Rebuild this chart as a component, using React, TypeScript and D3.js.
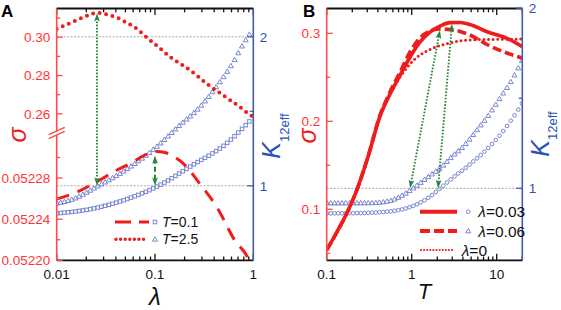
import React, { useEffect, useRef } from 'react';
import * as d3 from 'd3';

// ---------- Panel A data (x = lambda) ----------
const lambdaT25 = [0.01, 0.013, 0.017, 0.021, 0.0257, 0.033, 0.042, 0.052, 0.065, 0.085, 0.11, 0.14, 0.18, 0.23, 0.3, 0.38, 0.46, 0.58, 0.73, 0.88, 1.0];
const sigmaT25 = [0.3043, 0.3069, 0.3095, 0.3115, 0.3128, 0.3118, 0.31, 0.3075, 0.3045, 0.2993, 0.2946, 0.29, 0.2862, 0.2826, 0.2778, 0.2737, 0.2708, 0.2672, 0.2636, 0.2603, 0.2585];
const lambdaT01 = [0.01, 0.0161, 0.0263, 0.0411, 0.0597, 0.0755, 0.0889, 0.1048, 0.1264, 0.1524, 0.1921, 0.2867, 0.4305, 0.6446, 0.9137, 1.0];
const sigmaT01 = [0.0522596, 0.0522664, 0.0522771, 0.0522878, 0.0522956, 0.0523014, 0.0523043, 0.0523058, 0.0523048, 0.0523014, 0.0522946, 0.0522742, 0.0522509, 0.0522197, 0.0521983, 0.0521864];
const lambdaKT25 = [0.01, 0.01465, 0.0257, 0.0519, 0.1002, 0.1796, 0.2867, 0.4266, 0.619, 0.8152, 1.0];
const kT25 = [0.882, 0.911, 0.995, 1.113, 1.254, 1.409, 1.53, 1.671, 1.826, 1.967, 2.054];
const lambdaKT01 = [0.01, 0.0234, 0.0519, 0.1048, 0.2327, 0.5418, 0.8814, 1.0];
const kT01 = [0.815, 0.847, 0.911, 0.995, 1.133, 1.288, 1.422, 1.459];

// ---------- Panel B data (x = T) ----------
const tempB = [0.1, 0.132, 0.173, 0.226, 0.306, 0.424, 0.555, 0.73, 0.955, 1.25, 1.64, 2.15, 2.82, 3.7, 4.85, 7.7, 13.2, 20];
const sigmaL003 = [0.0538, 0.0742, 0.0958, 0.1219, 0.1594, 0.2058, 0.2308, 0.2524, 0.2728, 0.2899, 0.3013, 0.3081, 0.3121, 0.3123, 0.31, 0.3018, 0.2943, 0.2848];
const sigmaL006 = [0.0538, 0.0742, 0.0958, 0.1219, 0.16, 0.207, 0.2333, 0.256, 0.2788, 0.2947, 0.3026, 0.3049, 0.3043, 0.3021, 0.2981, 0.2873, 0.2776, 0.2719];
const sigmaL0 = [0.0538, 0.0742, 0.0958, 0.1219, 0.1594, 0.2058, 0.2308, 0.2503, 0.2651, 0.2753, 0.2816, 0.2861, 0.289, 0.2913, 0.2924, 0.293, 0.2932, 0.2935];
const tempK003 = [0.1, 0.215, 0.512, 1.036, 1.555, 2.254, 3.061, 4.013, 5.262, 6.901, 9.049, 11.45, 14.34, 17.81, 20];
const kL003 = [0.861, 0.862, 0.87, 0.902, 0.946, 1.007, 1.06, 1.102, 1.148, 1.196, 1.252, 1.307, 1.37, 1.435, 1.474];
const tempK006 = [0.1, 0.323, 0.512, 0.79, 1.064, 1.555, 2.254, 3.061, 4.013, 5.08, 6.36, 7.898, 9.049, 11.45, 14.34, 17.81, 20];
const kL006 = [0.918, 0.919, 0.927, 0.963, 1.004, 1.063, 1.12, 1.182, 1.231, 1.287, 1.346, 1.402, 1.443, 1.516, 1.585, 1.666, 1.713];

// ---------- ticks / labels ----------
const xMajorA = [0.01, 0.1, 1];
const xLabelsA = ['0.01', '0.1', '1'];
const xMajorB = [0.1, 1, 10];
const xLabelsB = ['0.1', '1', '10'];
const sigUpperMajor = [0.26, 0.28, 0.3];
const sigUpperMinor = [0.27, 0.29, 0.31];
const sigLowerMajor = [0.0522, 0.05224, 0.05228];
const sigLowerMinor = [0.05222, 0.05226, 0.0523];
const kMajorA = [1, 2];
const kMinorA = [1.5];
const sigBMajor = [0.1, 0.2, 0.3];
const sigBMinor = [0.05, 0.15, 0.25];
const kMajorB = [1, 2];
const kMinorB = [1.5];

const RED = '#f01c1c';
const RED_AX = '#ff4a4a';
const RED_TX = '#ff3434';
const BLUE_AX = '#3f5dab';
const BLUE_TX = '#2f52a8';
const BLUE_MK = '#7787cf';
const GREEN = '#27853a';
const GREY = '#a8a8a8';
const FONT = "'Liberation Sans', Arial, Helvetica, sans-serif";

type Sel = any;

function zip(xs: number[], ys: number[]) {
  return xs.map((x, i) => [x, ys[i]] as [number, number]);
}

function drawArrowHead(g: Sel, x: number, y: number, ang: number) {
  g.append('path')
    .attr('d', 'M0,0 L-8.5,-2.9 L-6.3,0 L-8.5,2.9 Z')
    .attr('transform', `translate(${x},${y}) rotate(${(ang * 180) / Math.PI})`)
    .attr('fill', GREEN);
}

function drawArrow(g: Sel, x1: number, y1: number, x2: number, y2: number, dash: string, w: number) {
  const a = Math.atan2(y2 - y1, x2 - x1);
  const s = 6;
  g.append('line')
    .attr('x1', x1 + Math.cos(a) * s).attr('y1', y1 + Math.sin(a) * s)
    .attr('x2', x2 - Math.cos(a) * s).attr('y2', y2 - Math.sin(a) * s)
    .attr('stroke', GREEN).attr('stroke-width', w).attr('stroke-dasharray', dash);
  drawArrowHead(g, x2, y2, a);
  drawArrowHead(g, x1, y1, a + Math.PI);
}

function marker(g: Sel, kind: string, x: number, y: number) {
  if (kind === 'circle') {
    g.append('circle').attr('cx', x).attr('cy', y).attr('r', 1.85)
      .attr('fill', 'none').attr('stroke', BLUE_MK).attr('stroke-width', 1);
  } else if (kind === 'square') {
    g.append('rect').attr('x', x - 1.75).attr('y', y - 1.75).attr('width', 3.5).attr('height', 3.5)
      .attr('fill', 'none').attr('stroke', BLUE_MK).attr('stroke-width', 1);
  } else {
    g.append('path').attr('d', d3.symbol(d3.symbolTriangle, 11)() as string)
      .attr('transform', `translate(${x},${y + 0.4})`)
      .attr('fill', 'none').attr('stroke', BLUE_MK).attr('stroke-width', 1);
  }
}

function markerSeries(g: Sel, d: string, kind: string, x0: number, x1: number, step: number) {
  const p = g.append('path').attr('d', d).attr('fill', 'none').attr('stroke', 'none');
  const node = p.node() as SVGPathElement;
  const L = node.getTotalLength();
  for (let x = x0; x <= x1 + 0.01; x += step) {
    let lo = 0, hi = L;
    for (let i = 0; i < 28; i++) {
      const mid = (lo + hi) / 2;
      if (node.getPointAtLength(mid).x < x) lo = mid; else hi = mid;
    }
    const pt = node.getPointAtLength(hi);
    marker(g, kind, pt.x, pt.y);
  }
  p.remove();
}

function xAxes(g: Sel, x: any, top: number, bottom: number, majors: number[], labels: string[]) {
  const ticks: number[] = x.ticks();
  const isMajor = (v: number) => Math.abs(Math.log10(v) - Math.round(Math.log10(v))) < 1e-6;
  ticks.forEach((v) => {
    const len = isMajor(v) ? 6.5 : 3.8;
    const xx = x(v);
    g.append('line').attr('x1', xx).attr('x2', xx).attr('y1', bottom).attr('y2', bottom - len)
      .attr('stroke', '#111').attr('stroke-width', 1.3);
    g.append('line').attr('x1', xx).attr('x2', xx).attr('y1', top).attr('y2', top + len)
      .attr('stroke', '#111').attr('stroke-width', 1.3);
  });
  const [r0, r1] = x.range();
  g.append('line').attr('x1', r0).attr('x2', r1).attr('y1', top).attr('y2', top).attr('stroke', '#111').attr('stroke-width', 1.8);
  g.append('line').attr('x1', r0).attr('x2', r1).attr('y1', bottom).attr('y2', bottom).attr('stroke', '#111').attr('stroke-width', 1.8);
  majors.forEach((v, i) => {
    g.append('text').attr('x', x(v)).attr('y', 279).attr('text-anchor', 'middle')
      .attr('font-size', 13.5).attr('font-family', FONT).attr('fill', '#111').text(labels[i]);
  });
}

function yTicks(g: Sel, y: any, ax: number, dir: number, majors: number[], minors: number[], color: string, txColor: string, fmt: (v: number) => string, labelSide: number) {
  majors.forEach((v) => {
    const yy = y(v);
    g.append('line').attr('x1', ax).attr('x2', ax + dir * 6).attr('y1', yy).attr('y2', yy).attr('stroke', color).attr('stroke-width', 1.3);
    g.append('text').attr('x', ax + labelSide * 6.5).attr('y', yy).attr('dy', '0.36em')
      .attr('text-anchor', labelSide < 0 ? 'end' : 'start')
      .attr('font-size', 13.5).attr('font-family', FONT).attr('fill', txColor).text(fmt(v));
  });
  minors.forEach((v) => {
    const yy = y(v);
    g.append('line').attr('x1', ax).attr('x2', ax + dir * 3.5).attr('y1', yy).attr('y2', yy).attr('stroke', color).attr('stroke-width', 1.3);
  });
}

export default function App() {
  const ref = useRef<SVGSVGElement>(null);

  useEffect(() => {
    const svg = d3.select(ref.current as SVGSVGElement);
    svg.selectAll('*').remove();
    const root: Sel = svg.append('g');

    // ================= PANEL A =================
    const xA = d3.scaleLog().domain([0.01, 1]).range([56.7, 253.3]);
    const yAU = d3.scaleLinear().domain([0.25, 0.315]).range([133, 8.5]);
    const yAL = d3.scaleLinear().domain([0.0522, 0.05232]).range([260.3, 136.9]);
    const yAK = d3.scaleLinear().domain([0.5, 2.19]).range([260.3, 8.5]);
    const topA = 8.5, botA = 260.3;

    const defs = svg.append('defs');
    defs.append('clipPath').attr('id', 'clipA').append('rect').attr('x', 56.7).attr('y', topA).attr('width', 196.6).attr('height', botA - topA);
    defs.append('clipPath').attr('id', 'clipB').append('rect').attr('x', 326.7).attr('y', topA).attr('width', 195.6).attr('height', botA - topA);

    const gA: Sel = root.append('g');
    const plotA: Sel = gA.append('g').attr('clip-path', 'url(#clipA)');

    [2, 1].forEach((k) => {
      plotA.append('line').attr('x1', xA.range()[0]).attr('x2', xA.range()[1]).attr('y1', yAK(k)).attr('y2', yAK(k))
        .attr('stroke', GREY).attr('stroke-width', 1).attr('stroke-dasharray', '2,1.5');
    });

    const lineAU = d3.line<[number, number]>().x((d) => xA(d[0])).y((d) => yAU(d[1])).curve(d3.curveMonotoneX);
    const lineAL = d3.line<[number, number]>().x((d) => xA(d[0])).y((d) => yAL(d[1])).curve(d3.curveMonotoneX);
    const lineAK = d3.line<[number, number]>().x((d) => xA(d[0])).y((d) => yAK(d[1])).curve(d3.curveMonotoneX);

    markerSeries(plotA, lineAK(zip(lambdaKT01, kT01)) as string, 'square', 57, 253, 3.7);
    markerSeries(plotA, lineAK(zip(lambdaKT25, kT25)) as string, 'triangle', 57, 253, 3.7);

    plotA.append('path').attr('d', lineAU(zip(lambdaT25, sigmaT25)) as string)
      .attr('fill', 'none').attr('stroke', RED).attr('stroke-width', 4).attr('stroke-linecap', 'round').attr('stroke-dasharray', '0,6.6');
    plotA.append('path').attr('d', lineAL(zip(lambdaT01, sigmaT01)) as string)
      .attr('fill', 'none').attr('stroke', RED).attr('stroke-width', 3).attr('stroke-dasharray', '13,9');

    const arrA: Sel = gA.append('g');
    drawArrow(arrA, xA(0.0257), yAK(1), xA(0.0257), yAU(0.3125), '1.6,1.6', 1.9);
    drawArrow(arrA, xA(0.1), yAK(1), xA(0.1), yAL(0.052302), '5,3', 2);

    const axA: Sel = gA.append('g');
    xAxes(axA, xA, topA, botA, xMajorA, xLabelsA);
    axA.append('line').attr('x1', 56.7).attr('x2', 56.7).attr('y1', topA).attr('y2', botA).attr('stroke', RED_AX).attr('stroke-width', 1.6);
    axA.append('line').attr('x1', 253.3).attr('x2', 253.3).attr('y1', topA).attr('y2', botA).attr('stroke', BLUE_AX).attr('stroke-width', 1.6);
    yTicks(axA, yAU, 56.7, 1, sigUpperMajor, sigUpperMinor, RED_AX, RED_TX, d3.format('.2f'), -1);
    yTicks(axA, yAL, 56.7, 1, sigLowerMajor, sigLowerMinor, RED_AX, RED_TX, d3.format('.5f'), -1);
    yTicks(axA, yAK, 253.3, -1, kMajorA, kMinorA, BLUE_AX, BLUE_TX, d3.format('d'), 1);
    const bx = 56.7, by = 133;
    axA.append('polygon')
      .attr('points', `${bx - 8},${by + 5.6} ${bx + 8},${by - 1.6} ${bx + 8},${by - 5.6} ${bx - 8},${by + 1.6}`)
      .attr('fill', '#fff');
    [-2, 2].forEach((o) => {
      axA.append('line').attr('x1', bx - 8).attr('y1', by + o + 3.6).attr('x2', bx + 8).attr('y2', by + o - 3.6)
        .attr('stroke', RED_AX).attr('stroke-width', 1.5);
    });

    gA.append('text').attr('x', 1).attr('y', 17).attr('font-size', 17).attr('font-weight', 'bold').attr('font-family', FONT).attr('fill', '#000').text('A');
    gA.append('text').attr('transform', 'translate(25.5,135) rotate(-90)').attr('text-anchor', 'middle')
      .attr('font-size', 25).attr('font-style', 'italic').attr('font-family', FONT).attr('fill', RED).text('σ');
    gA.append('text').attr('x', 155).attr('y', 305).attr('text-anchor', 'middle')
      .attr('font-size', 24).attr('font-style', 'italic').attr('font-family', FONT).attr('fill', '#111').text('λ');
    const kA: Sel = gA.append('text').attr('transform', 'translate(280,136) rotate(-90)').attr('text-anchor', 'middle')
      .attr('font-family', FONT).attr('fill', '#2a52b4');
    kA.append('tspan').attr('font-size', 25).attr('font-style', 'italic').text('K');
    kA.append('tspan').attr('font-size', 13).attr('dy', 9).text('12eff');

    const lgA: Sel = gA.append('g');
    lgA.append('line').attr('x1', 115).attr('x2', 149).attr('y1', 222).attr('y2', 222).attr('stroke', RED).attr('stroke-width', 3).attr('stroke-dasharray', '16,8');
    lgA.append('line').attr('x1', 116).attr('x2', 148).attr('y1', 239.3).attr('y2', 239.3).attr('stroke', RED).attr('stroke-width', 3.4).attr('stroke-linecap', 'round').attr('stroke-dasharray', '0,4.6');
    marker(lgA, 'square', 155, 222);
    marker(lgA, 'triangle', 155, 239.3);
    ([['0.1', 222], ['2.5', 239.3]] as [string, number][]).forEach(([v, y]) => {
      const t: Sel = lgA.append('text').attr('x', 162).attr('y', y).attr('dy', '0.36em').attr('font-size', 14).attr('font-family', FONT).attr('fill', '#111');
      t.append('tspan').attr('font-style', 'italic').text('T');
      t.append('tspan').text('=' + v);
    });

    // ================= PANEL B =================
    const xB = d3.scaleLog().domain([0.1, 20]).range([326.7, 522.3]);
    const yBS = d3.scaleLinear().domain([0.04205, 0.3282]).range([260.3, 8.5]);
    const yBK = d3.scaleLinear().domain([0.6, 2.0]).range([260.3, 8.3]);

    const gB: Sel = root.append('g');
    const plotB: Sel = gB.append('g').attr('clip-path', 'url(#clipB)');
    plotB.append('line').attr('x1', xB.range()[0]).attr('x2', xB.range()[1]).attr('y1', yBK(1)).attr('y2', yBK(1))
      .attr('stroke', GREY).attr('stroke-width', 1).attr('stroke-dasharray', '2,1.5');

    const lineBS = d3.line<[number, number]>().x((d) => xB(d[0])).y((d) => yBS(d[1])).curve(d3.curveMonotoneX);
    const lineBK = d3.line<[number, number]>().x((d) => xB(d[0])).y((d) => yBK(d[1])).curve(d3.curveMonotoneX);

    markerSeries(plotB, lineBK(zip(tempK003, kL003)) as string, 'circle', 327, 522, 3.75);
    markerSeries(plotB, lineBK(zip(tempK006, kL006)) as string, 'triangle', 327, 522, 3.75);

    plotB.append('path').attr('d', lineBS(zip(tempB, sigmaL0)) as string)
      .attr('fill', 'none').attr('stroke', RED).attr('stroke-width', 3).attr('stroke-linecap', 'round').attr('stroke-dasharray', '0,4.6');
    plotB.append('path').attr('d', lineBS(zip(tempB, sigmaL006)) as string)
      .attr('fill', 'none').attr('stroke', RED).attr('stroke-width', 3.6).attr('stroke-dasharray', '9,4');
    plotB.append('path').attr('d', lineBS(zip(tempB, sigmaL003)) as string)
      .attr('fill', 'none').attr('stroke', RED).attr('stroke-width', 3.6);

    const arrB: Sel = gB.append('g');
    drawArrow(arrB, xB(0.955), yBK(1), xB(2.15), yBS(0.3035), '1.6,1.6', 1.9);
    drawArrow(arrB, xB(2.04), yBK(1), xB(2.98), yBS(0.311), '1.6,1.6', 1.9);

    const axB: Sel = gB.append('g');
    xAxes(axB, xB, topA, botA, xMajorB, xLabelsB);
    axB.append('line').attr('x1', 326.7).attr('x2', 326.7).attr('y1', topA).attr('y2', botA).attr('stroke', RED_AX).attr('stroke-width', 1.6);
    axB.append('line').attr('x1', 522.3).attr('x2', 522.3).attr('y1', topA).attr('y2', botA).attr('stroke', BLUE_AX).attr('stroke-width', 1.6);
    yTicks(axB, yBS, 326.7, 1, sigBMajor, sigBMinor, RED_AX, RED_TX, d3.format('.1f'), -1);
    yTicks(axB, yBK, 522.3, -1, kMajorB, kMinorB, BLUE_AX, BLUE_TX, d3.format('d'), 1);

    gB.append('text').attr('x', 303).attr('y', 17).attr('font-size', 17).attr('font-weight', 'bold').attr('font-family', FONT).attr('fill', '#000').text('B');
    gB.append('text').attr('transform', 'translate(315.5,136) rotate(-90)').attr('text-anchor', 'middle')
      .attr('font-size', 25).attr('font-style', 'italic').attr('font-family', FONT).attr('fill', RED).text('σ');
    gB.append('text').attr('x', 424.5).attr('y', 299).attr('text-anchor', 'middle')
      .attr('font-size', 22).attr('font-style', 'italic').attr('font-family', FONT).attr('fill', '#111').text('T');
    const kB: Sel = gB.append('text').attr('transform', 'translate(549,134) rotate(-90)').attr('text-anchor', 'middle')
      .attr('font-family', FONT).attr('fill', '#2a52b4');
    kB.append('tspan').attr('font-size', 25).attr('font-style', 'italic').text('K');
    kB.append('tspan').attr('font-size', 13).attr('dy', 8).text('12eff');

    const lgB: Sel = gB.append('g');
    lgB.append('line').attr('x1', 420).attr('x2', 457).attr('y1', 211.7).attr('y2', 211.7).attr('stroke', RED).attr('stroke-width', 4);
    lgB.append('line').attr('x1', 420).attr('x2', 457).attr('y1', 231).attr('y2', 231).attr('stroke', RED).attr('stroke-width', 4).attr('stroke-dasharray', '10,4');
    lgB.append('line').attr('x1', 421).attr('x2', 455).attr('y1', 250).attr('y2', 250).attr('stroke', RED).attr('stroke-width', 2.2).attr('stroke-linecap', 'round').attr('stroke-dasharray', '0,3.1');
    marker(lgB, 'circle', 468.3, 211.7);
    marker(lgB, 'triangle', 468.3, 231);
    ([['0.03', 478.3, 211.7], ['0.06', 478.3, 231], ['0', 461.7, 250]] as [string, number, number][]).forEach(([v, x, y]) => {
      const t: Sel = lgB.append('text').attr('x', x).attr('y', y).attr('dy', '0.36em').attr('font-size', 15.5).attr('font-family', FONT).attr('fill', '#111');
      t.append('tspan').attr('font-style', 'italic').text('λ');
      t.append('tspan').text('=' + v);
    });
  }, []);

  return (
    <svg
      ref={ref}
      width={561}
      height={310}
      style={{ position: 'absolute', left: 0, top: 0, background: '#fff' }}
    />
  );
}
